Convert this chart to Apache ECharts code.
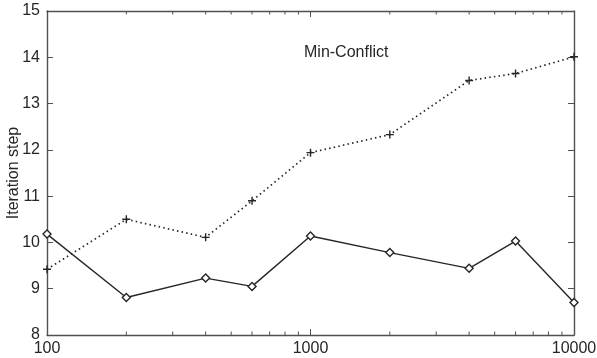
<!DOCTYPE html>
<html>
<head>
<meta charset="utf-8">
<script src="https://cdn.jsdelivr.net/npm/echarts@6/dist/echarts.min.js"></script>
<style>
  html, body { margin: 0; padding: 0; background: #fff; }
  #chart { width: 597px; height: 358px; }
</style>
</head>
<body>
<div id="chart"></div>
<script>
// Problem sizes (log scale) and iteration counts for the two runs
const problemSizes = [100, 200, 400, 600, 1000, 2000, 4000, 6000, 10000];
const dottedSteps = [9.42, 10.50, 10.11, 10.90, 11.94, 12.33, 13.50, 13.65, 14.01];
const solidSteps = [10.18, 8.81, 9.23, 9.05, 10.14, 9.78, 9.44, 10.03, 8.70];

// Intermediate log-decade tick positions
const minorTickValues = [200, 300, 400, 500, 600, 700, 800, 900,
                         2000, 3000, 4000, 5000, 6000, 7000, 8000, 9000];

const yMin = 8, yMax = 15;
const ink = '#262626';
const axisInk = '#505050';
const font = 'Liberation Sans, Arial, Helvetica, sans-serif';

const chart = echarts.init(document.getElementById('chart'), null, { renderer: 'canvas' });

const pair = (xs, ys) => xs.map((x, i) => [x, ys[i]]);

chart.setOption({
  animation: false,
  backgroundColor: '#fff',
  title: {
    text: 'Min-Conflict',
    left: 299,
    top: 40,
    textStyle: { fontFamily: font, fontSize: 16, fontWeight: 'normal', color: ink }
  },
  grid: { left: 47, right: 23, top: 11, bottom: 23, containLabel: false, outerBoundsMode: 'none' },
  xAxis: [
    {
      type: 'log', logBase: 10, min: 100, max: 10000,
      axisLine: { show: true, onZero: false, lineStyle: { color: axisInk, width: 1.4 } },
      axisTick: { show: true, inside: true, length: 6, lineStyle: { color: axisInk } },
      axisLabel: {
        margin: 6, fontFamily: font, fontSize: 16, color: ink,
        formatter: v => String(Math.round(v))
      },
      splitLine: { show: false }
    },
    {
      type: 'log', logBase: 10, min: 100, max: 10000, position: 'top',
      axisLine: { show: true, onZero: false, lineStyle: { color: axisInk, width: 1.4 } },
      axisTick: { show: true, inside: true, length: 6, lineStyle: { color: axisInk } },
      axisLabel: { show: false },
      splitLine: { show: false }
    }
  ],
  yAxis: [
    {
      type: 'value', min: yMin, max: yMax, interval: 1,
      name: 'Iteration step', nameLocation: 'middle', nameGap: 25,
      nameMoveOverlap: false,
      nameTextStyle: { fontFamily: font, fontSize: 16, color: ink },
      axisLine: { show: true, onZero: false, lineStyle: { color: axisInk, width: 1.4 } },
      axisTick: { show: true, inside: true, length: 6, lineStyle: { color: axisInk } },
      axisLabel: { margin: 7, fontFamily: font, fontSize: 16, color: ink },
      splitLine: { show: false }
    },
    {
      type: 'value', min: yMin, max: yMax, interval: 1, position: 'right',
      axisLine: { show: true, onZero: false, lineStyle: { color: axisInk, width: 1.4 } },
      axisTick: { show: true, inside: true, length: 6, lineStyle: { color: axisInk } },
      axisLabel: { show: false },
      splitLine: { show: false }
    }
  ],
  series: [
    {
      name: 'dotted',
      type: 'line',
      data: pair(problemSizes, dottedSteps),
      lineStyle: { color: ink, width: 1.7, type: [1.5, 3.2] },
      symbol: 'path://M0,5L10,5M5,0L5,10',
      symbolSize: 8,
      itemStyle: { color: 'none', borderColor: ink, borderWidth: 1.4 },
      clip: false
    },
    {
      name: 'solid',
      type: 'line',
      data: pair(problemSizes, solidSteps),
      lineStyle: { color: ink, width: 1.4 },
      symbol: 'diamond',
      symbolSize: 8,
      itemStyle: { color: '#fff', borderColor: ink, borderWidth: 1.4 },
      clip: false
    },
    {
      // short inward ticks at the intermediate log positions, top and bottom
      type: 'custom',
      silent: true,
      clip: false,
      xAxisIndex: 0,
      yAxisIndex: 0,
      encode: { x: 0, y: 1 },
      data: minorTickValues.map(v => [v, yMin]),
      renderItem: function (params, api) {
        const v = api.value(0);
        const bottom = api.coord([v, yMin]);
        const top = api.coord([v, yMax]);
        const len = 3.5;
        const style = { stroke: axisInk, lineWidth: 1, fill: null };
        return {
          type: 'group',
          children: [
            { type: 'line', shape: { x1: bottom[0], y1: bottom[1], x2: bottom[0], y2: bottom[1] - len }, style: style },
            { type: 'line', shape: { x1: top[0], y1: top[1], x2: top[0], y2: top[1] + len }, style: style }
          ]
        };
      }
    }
  ]
});
</script>
</body>
</html>
